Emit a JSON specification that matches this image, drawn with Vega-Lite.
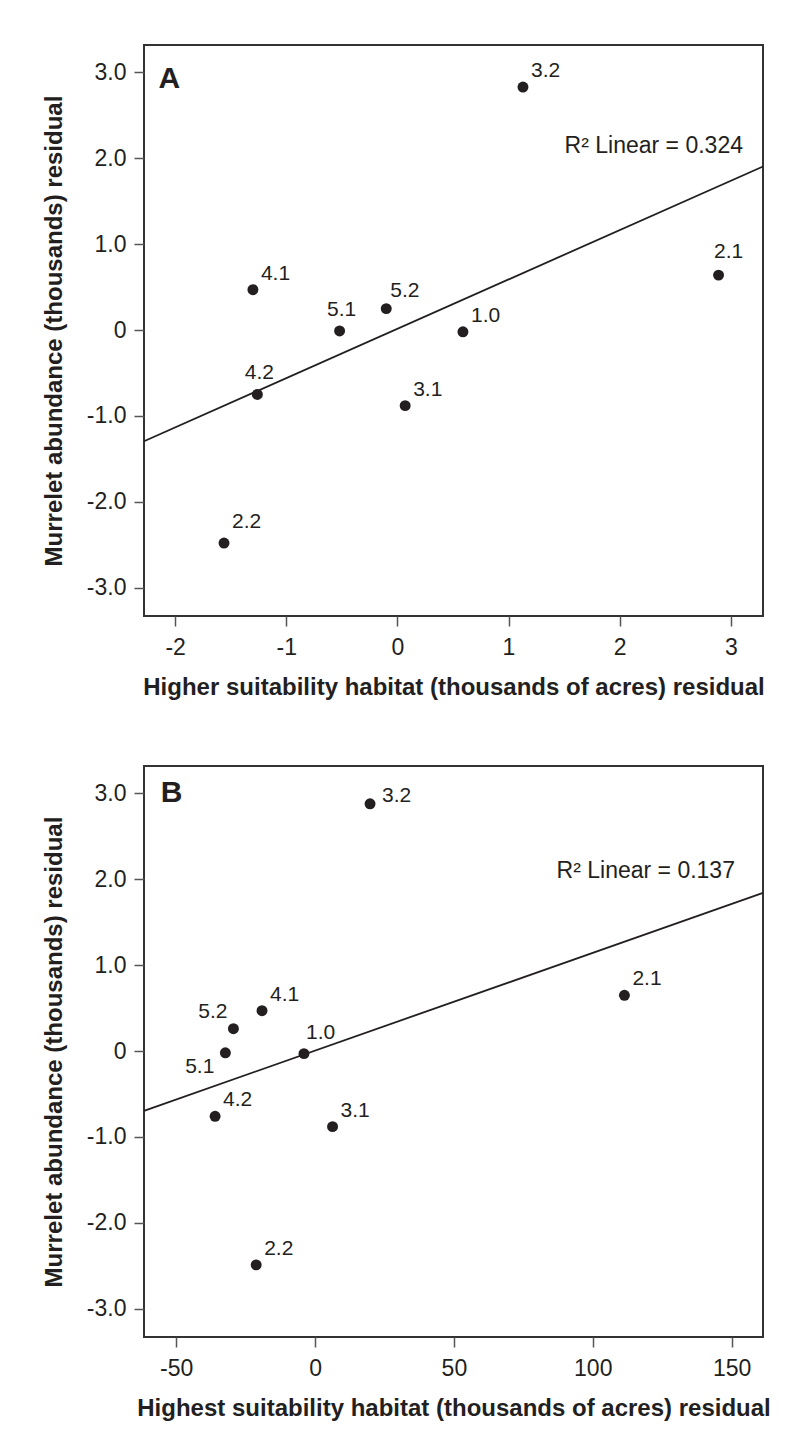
{
  "$schema": "https://vega.github.io/schema/vega-lite/v6.json",
  "background": "white",
  "padding": {"left": 41, "top": 44, "right": 0, "bottom": 0},
  "spacing": 65,
  "datasets": {
    "ptsA": [
      {"id": "4.1", "x": -1.30, "y": 0.47},
      {"id": "5.1", "x": -0.52, "y": -0.01},
      {"id": "5.2", "x": -0.10, "y": 0.25},
      {"id": "1.0", "x": 0.59, "y": -0.02},
      {"id": "4.2", "x": -1.26, "y": -0.75},
      {"id": "3.1", "x": 0.07, "y": -0.88},
      {"id": "2.1", "x": 2.89, "y": 0.64},
      {"id": "3.2", "x": 1.13, "y": 2.83},
      {"id": "2.2", "x": -1.56, "y": -2.48}
    ],
    "ptsB": [
      {"id": "5.2", "x": -29.4, "y": 0.26},
      {"id": "4.1", "x": -19.1, "y": 0.47},
      {"id": "5.1", "x": -32.3, "y": -0.02},
      {"id": "1.0", "x": -4.0, "y": -0.03},
      {"id": "4.2", "x": -36.0, "y": -0.76},
      {"id": "3.1", "x": 6.3, "y": -0.88},
      {"id": "2.1", "x": 111.4, "y": 0.65},
      {"id": "3.2", "x": 19.8, "y": 2.88},
      {"id": "2.2", "x": -21.2, "y": -2.49}
    ],
    "lineA": [{"x": -2.28, "y": -1.295}, {"x": 3.29, "y": 1.905}],
    "lineB": [{"x": -61.6, "y": -0.696}, {"x": 161.3, "y": 1.842}],
    "noteA": [{"x": 3.11, "y": 2.067, "t": "R² Linear = 0.324"}],
    "noteB": [{"x": 151.2, "y": 2.018, "t": "R² Linear = 0.137"}],
    "tagA": [{"x": -2.149, "y": 2.823, "t": "A"}],
    "tagB": [{"x": -55.6, "y": 2.90, "t": "B"}]
  },
  "vconcat": [
    {
      "width": 619,
      "height": 571,
      "encoding": {
        "x": {"field": "x", "type": "quantitative",
          "scale": {"domain": [-2.28, 3.29], "nice": false, "zero": false},
          "axis": {"values": [-2, -1, 0, 1, 2, 3], "title": "Higher suitability habitat (thousands of acres) residual",
            "labelExpr": "replace(datum.label, '\u2212', '-')"}},
        "y": {"field": "y", "type": "quantitative",
          "scale": {"domain": [-3.33, 3.32], "nice": false, "zero": false},
          "axis": {"values": [-3, -2, -1, 0, 1, 2, 3], "title": "Murrelet abundance (thousands) residual",
            "labelExpr": "datum.value == 0 ? '0' : replace(format(datum.value, '.1f'), '\u2212', '-')"}}
      },
      "layer": [
        {"data": {"name": "lineA"}, "mark": {"type": "line", "color": "#231f20", "strokeWidth": 1.8}},
        {"data": {"name": "ptsA"}, "mark": {"type": "point", "filled": true, "size": 120, "color": "#231f20", "opacity": 1}},
        {"data": {"name": "ptsA"}, "transform": [{"filter": {"field": "id", "oneOf": ["4.1", "1.0", "3.1", "3.2"]}}],
          "mark": {"type": "text", "align": "left", "baseline": "alphabetic", "dx": 8, "dy": -10, "fontSize": 21, "color": "#231f20"},
          "encoding": {"text": {"field": "id"}}},
        {"data": {"name": "ptsA"}, "transform": [{"filter": {"field": "id", "oneOf": ["5.2"]}}],
          "mark": {"type": "text", "align": "left", "baseline": "alphabetic", "dx": 4, "dy": -12, "fontSize": 21, "color": "#231f20"},
          "encoding": {"text": {"field": "id"}}},
        {"data": {"name": "ptsA"}, "transform": [{"filter": {"field": "id", "oneOf": ["5.1", "4.2"]}}],
          "mark": {"type": "text", "align": "center", "baseline": "alphabetic", "dx": 2, "dy": -15, "fontSize": 21, "color": "#231f20"},
          "encoding": {"text": {"field": "id"}}},
        {"data": {"name": "ptsA"}, "transform": [{"filter": {"field": "id", "oneOf": ["2.1"]}}],
          "mark": {"type": "text", "align": "center", "baseline": "alphabetic", "dx": 10, "dy": -17, "fontSize": 21, "color": "#231f20"},
          "encoding": {"text": {"field": "id"}}},
        {"data": {"name": "ptsA"}, "transform": [{"filter": {"field": "id", "oneOf": ["2.2"]}}],
          "mark": {"type": "text", "align": "left", "baseline": "alphabetic", "dx": 8, "dy": -15, "fontSize": 21, "color": "#231f20"},
          "encoding": {"text": {"field": "id"}}},
        {"data": {"name": "noteA"}, "mark": {"type": "text", "align": "right", "baseline": "alphabetic", "fontSize": 23, "color": "#231f20"},
          "encoding": {"text": {"field": "t"}}},
        {"data": {"name": "tagA"}, "mark": {"type": "text", "align": "left", "baseline": "alphabetic", "fontSize": 30, "fontWeight": "bold", "color": "#231f20"},
          "encoding": {"text": {"field": "t"}}}
      ]
    },
    {
      "width": 619,
      "height": 571,
      "encoding": {
        "x": {"field": "x", "type": "quantitative",
          "scale": {"domain": [-61.6, 161.3], "nice": false, "zero": false},
          "axis": {"values": [-50, 0, 50, 100, 150], "title": "Highest suitability habitat (thousands of acres) residual",
            "labelExpr": "replace(datum.label, '\u2212', '-')"}},
        "y": {"field": "y", "type": "quantitative",
          "scale": {"domain": [-3.33, 3.32], "nice": false, "zero": false},
          "axis": {"values": [-3, -2, -1, 0, 1, 2, 3], "title": "Murrelet abundance (thousands) residual",
            "labelExpr": "datum.value == 0 ? '0' : replace(format(datum.value, '.1f'), '\u2212', '-')"}}
      },
      "layer": [
        {"data": {"name": "lineB"}, "mark": {"type": "line", "color": "#231f20", "strokeWidth": 1.8}},
        {"data": {"name": "ptsB"}, "mark": {"type": "point", "filled": true, "size": 120, "color": "#231f20", "opacity": 1}},
        {"data": {"name": "ptsB"}, "transform": [{"filter": {"field": "id", "oneOf": ["4.1", "4.2", "3.1", "2.1", "2.2"]}}],
          "mark": {"type": "text", "align": "left", "baseline": "alphabetic", "dx": 8, "dy": -10, "fontSize": 21, "color": "#231f20"},
          "encoding": {"text": {"field": "id"}}},
        {"data": {"name": "ptsB"}, "transform": [{"filter": {"field": "id", "oneOf": ["1.0"]}}],
          "mark": {"type": "text", "align": "left", "baseline": "alphabetic", "dx": 2, "dy": -15, "fontSize": 21, "color": "#231f20"},
          "encoding": {"text": {"field": "id"}}},
        {"data": {"name": "ptsB"}, "transform": [{"filter": {"field": "id", "oneOf": ["3.2"]}}],
          "mark": {"type": "text", "align": "left", "baseline": "alphabetic", "dx": 12, "dy": -2, "fontSize": 21, "color": "#231f20"},
          "encoding": {"text": {"field": "id"}}},
        {"data": {"name": "ptsB"}, "transform": [{"filter": {"field": "id", "oneOf": ["5.2"]}}],
          "mark": {"type": "text", "align": "right", "baseline": "alphabetic", "dx": -6, "dy": -11, "fontSize": 21, "color": "#231f20"},
          "encoding": {"text": {"field": "id"}}},
        {"data": {"name": "ptsB"}, "transform": [{"filter": {"field": "id", "oneOf": ["5.1"]}}],
          "mark": {"type": "text", "align": "right", "baseline": "alphabetic", "dx": -11, "dy": 20, "fontSize": 21, "color": "#231f20"},
          "encoding": {"text": {"field": "id"}}},
        {"data": {"name": "noteB"}, "mark": {"type": "text", "align": "right", "baseline": "alphabetic", "fontSize": 23, "color": "#231f20"},
          "encoding": {"text": {"field": "t"}}},
        {"data": {"name": "tagB"}, "mark": {"type": "text", "align": "left", "baseline": "alphabetic", "fontSize": 30, "fontWeight": "bold", "color": "#231f20"},
          "encoding": {"text": {"field": "t"}}}
      ]
    }
  ],
  "config": {
    "font": "Liberation Sans",
    "view": {"stroke": "#333333", "strokeWidth": 2},
    "axis": {
      "grid": false, "domain": false,
      "tickSize": 10, "tickColor": "#555555", "tickWidth": 1.5,
      "labelFontSize": 23, "labelColor": "#231f20", "labelPadding": 8,
      "labelFlush": false, "labelOverlap": false,
      "titleFontSize": 24, "titleFontWeight": "bold", "titleColor": "#231f20"
    },
    "axisX": {"labelPadding": 10, "titlePadding": 16},
    "axisY": {"titlePadding": 20}
  }
}
